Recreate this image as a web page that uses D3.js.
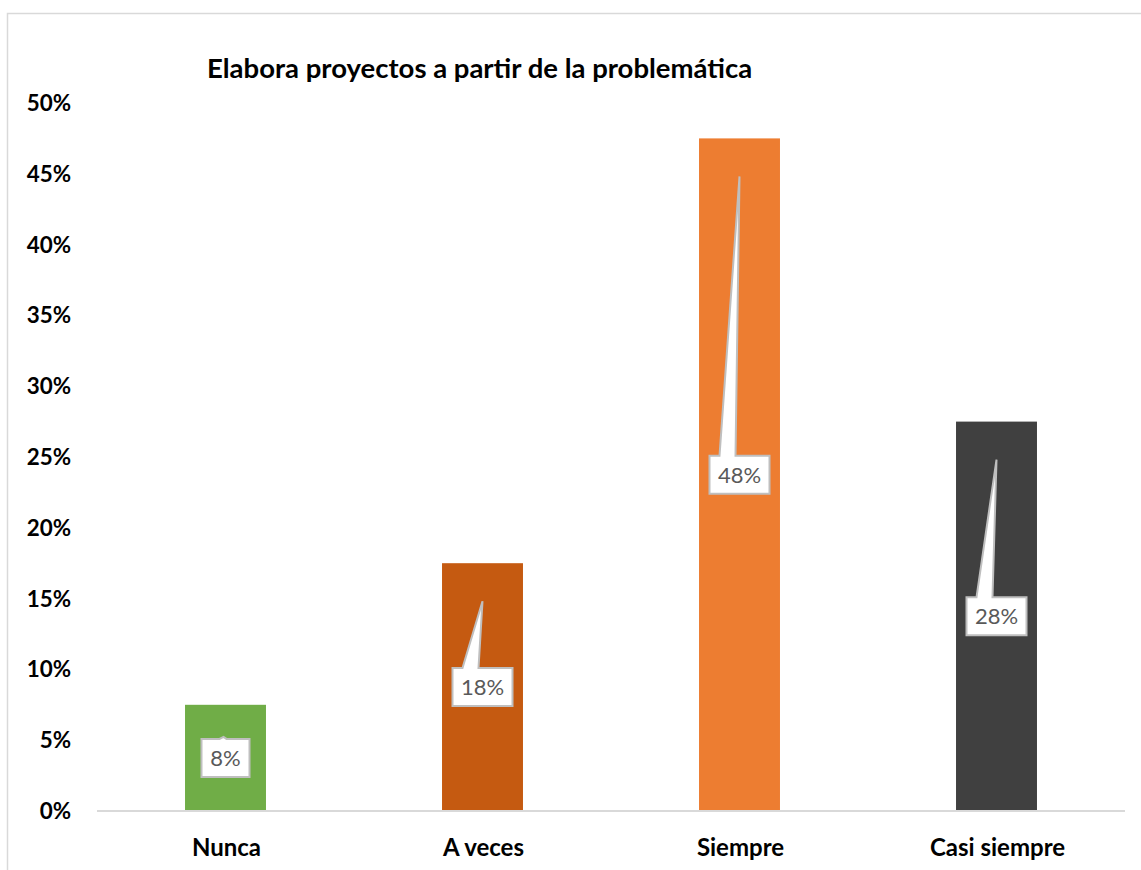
<!DOCTYPE html>
<html><head><meta charset="utf-8">
<script src="https://cdn.jsdelivr.net/npm/d3@7"></script>
<style>body{margin:0;background:#fff}svg{display:block}</style>
</head><body>
<script>
const categories = ["Nunca", "A veces", "Siempre", "Casi siempre"];
const values = [0.075, 0.175, 0.475, 0.275];
const valueLabels = ["8%", "18%", "48%", "28%"];
const colors = ["#70ad47", "#c55a11", "#ed7d31", "#404040"];
const yTicks = [0, 0.05, 0.10, 0.15, 0.20, 0.25, 0.30, 0.35, 0.40, 0.45, 0.50];
const title = "Elabora proyectos a partir de la problemática";

const W = 1141, H = 870;
const font = "Lato, 'Open Sans', sans-serif";
const svg = d3.select("body").append("svg").attr("width", W).attr("height", H);

svg.append("rect").attr("x", 7.5).attr("y", 13.5).attr("width", W + 20).attr("height", H + 20)
  .attr("fill", "#fff").attr("stroke", "#d9d9d9").attr("stroke-width", 1.5);

const x = d3.scaleBand().domain(categories).range([97, 1125]).padding(0);
const y = d3.scaleLinear().domain([0, 0.5]).range([811, 103]);
const barW = x.bandwidth() * 0.315;

svg.append("text").attr("x", 207).attr("y", 78).attr("font-family", font)
  .attr("font-weight", 700).attr("font-size", 27.5).attr("fill", "#000").text(title);

// y tick labels
svg.append("g").selectAll("text").data(yTicks).join("text")
  .attr("x", 71).attr("y", d => y(d)).attr("dy", "0.36em").attr("text-anchor", "end")
  .attr("font-family", font).attr("font-weight", 700).attr("font-size", 22.4).attr("fill", "#000")
  .text(d => d3.format(".0%")(d));

// bars
svg.append("g").selectAll("rect").data(values).join("rect")
  .attr("x", (d, i) => x(categories[i]) + x.bandwidth() / 2 - barW / 2)
  .attr("width", barW)
  .attr("y", d => y(d)).attr("height", d => y(0) - y(d))
  .attr("fill", (d, i) => colors[i]);

// axis line
svg.append("line").attr("x1", 97).attr("x2", 1125).attr("y1", 811).attr("y2", 811)
  .attr("stroke", "#d9d9d9").attr("stroke-width", 2);

// x labels
svg.append("g").selectAll("text").data(categories).join("text")
  .attr("x", d => x(d) + x.bandwidth() / 2 + 1).attr("y", 856).attr("text-anchor", "middle")
  .attr("font-family", font).attr("font-weight", 700).attr("font-size", 24).attr("fill", "#000")
  .text(d => d);

// callouts
const cg = svg.append("g");
values.forEach((v, i) => {
  const cx = x(categories[i]) + x.bandwidth() / 2;
  const cy = (y(v) + y(0)) / 2;
  const bw = valueLabels[i].length > 2 ? 60 : 48;
  const bh = 38;
  const L = cx - bw / 2, R = cx + bw / 2, T = cy - bh / 2, B = cy + bh / 2;
  let tipX = cx, tipY = y(v) + 38, bL = L + 10, bR = L + 26;
  if (tipY > T - 6) { tipX = cx - 2; tipY = T - 2; bL = tipX - 4; bR = tipX + 3; }
  const p = `M${L},${T} L${bL},${T} L${tipX},${tipY} L${bR},${T} L${R},${T} L${R},${B} L${L},${B} Z`;
  cg.append("path").attr("d", p).attr("fill", "#fff").attr("stroke", "#bfbfbf")
    .attr("stroke-width", 2).attr("stroke-linejoin", "miter");
  cg.append("text").attr("x", cx).attr("y", cy).attr("dy", "0.36em").attr("text-anchor", "middle")
    .attr("font-family", font).attr("font-size", 22).attr("fill", "#595959").text(valueLabels[i]);
});
</script>
</body></html>
